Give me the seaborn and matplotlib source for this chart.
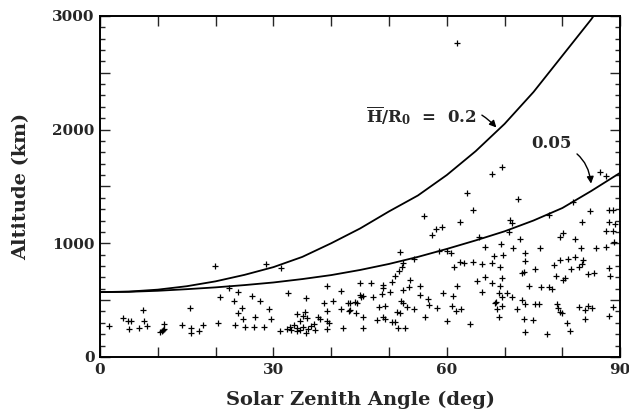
import matplotlib
matplotlib.use("Agg")
import matplotlib.pyplot as plt
from matplotlib.ticker import MultipleLocator, FuncFormatter
import seaborn as sns
import pandas as pd

# === DATA ===
zenith_deg = [
    1.6, 4.0, 4.9, 5.3, 5.1, 7.4, 6.8, 7.6, 8.1, 11.1, 10.3, 10.7, 11.1, 10.9,
    14.1, 15.6, 15.7, 15.7, 17.2, 17.9, 19.9, 20.8, 20.5, 22.4,
    28.8, 31.3, 23.8, 23.1, 26.3, 27.7, 24.6, 23.9, 24.7, 26.8, 29.2, 29.5,
    23.4, 25.0, 26.7, 28.4, 32.6, 35.7, 39.3, 41.7, 38.8, 40.3, 42.9, 39.3,
    41.7, 43.0, 34.1, 35.5, 35.2, 35.8, 34.6, 37.8, 38.0, 39.3, 39.7, 39.3,
    37.2, 42.1, 31.2, 32.3, 32.9, 33.5, 34.0, 34.6, 35.2, 35.9, 35.7, 34.1,
    33.0, 36.5, 37.0,
    56.0, 64.6, 62.3, 58.2, 59.1, 57.4, 65.5, 51.9, 58.6, 60.0, 60.7, 52.4,
    52.2, 51.8, 51.1, 50.5, 62.3, 63.0, 64.6, 61.3, 65.3, 54.3, 45.0, 46.9,
    49.0, 48.9, 53.7, 53.5, 52.5, 55.4, 55.3, 45.0, 45.5, 45.2, 47.3, 48.8,
    50.1, 43.2, 44.1, 44.5, 43.3, 44.3, 45.5, 47.9, 49.0, 49.3, 50.5, 51.1,
    48.3, 49.3, 51.3, 51.9, 52.1, 52.5, 53.1, 54.3, 56.7, 57.0, 58.3, 56.2,
    59.3, 61.1, 60.9, 61.7, 61.6, 62.4, 60.1, 64.0, 45.5, 51.6, 52.8, 63.5,
    61.8,
    69.6, 67.8, 86.5, 87.6, 72.3, 71.0, 71.3, 77.6, 81.9, 84.8, 88.1, 88.8,
    83.4, 88.1, 89.1, 87.6, 88.8, 89.0, 70.7, 72.6, 80.1, 79.6, 82.2, 69.3,
    66.6, 71.4, 76.2, 83.3, 85.8, 87.6, 73.6, 68.1, 69.8, 73.6, 67.9, 66.1,
    69.2, 75.3, 73.3, 73.0, 78.6, 79.6, 80.9, 82.2, 83.6, 83.4, 82.8, 81.5,
    84.5, 85.4, 88.1, 88.3, 78.9, 80.5, 80.1, 66.6, 69.5, 67.8, 69.2, 74.3,
    76.3, 77.6, 78.2, 66.1, 69.0, 70.4, 69.5, 71.3, 73.0, 68.5, 68.4, 73.6,
    75.3, 75.9, 69.5, 68.7, 72.2, 79.0, 79.3, 79.6, 79.9, 82.8, 84.5, 85.1,
    83.9, 88.8, 88.1, 69.1, 73.4, 74.9, 83.9, 80.8, 73.6, 77.4, 81.3,
]
altitude_km = [
    272, 340, 314, 319, 246, 413, 257, 316, 275, 292, 217, 228, 243, 235,
    281, 428, 257, 208, 228, 278, 799, 530, 299, 603,
    817, 782, 574, 492, 539, 495, 430, 390, 331, 354, 419, 337,
    284, 266, 263, 263, 560, 515, 626, 583, 472, 495, 472, 404,
    419, 404, 375, 398, 360, 340, 319, 354, 334, 319, 296, 246,
    237, 252, 228, 246, 266, 278, 252, 237, 261, 243, 213, 231,
    240, 270, 290,
    1241, 1291, 1183, 1121, 1139, 1071, 1051, 925, 931, 931, 911, 829,
    793, 755, 711, 661, 832, 829, 832, 788, 671, 859, 653, 653,
    633, 603, 677, 618, 589, 624, 545, 545, 536, 524, 530, 554,
    574, 472, 486, 472, 413, 384, 349, 325, 349, 331, 308, 308,
    437, 448, 398, 384, 495, 472, 442, 422, 507, 454, 428, 354,
    565, 536, 448, 624, 407, 419, 319, 290, 257, 257, 252, 1445,
    2762,
    1672, 1613, 1627, 1592, 1393, 1203, 1180, 1247, 1364, 1285, 1291, 1291,
    1188, 1188, 1165, 1109, 1109, 1013, 1100, 1034, 1092, 1057, 1034, 993,
    964, 955, 955, 960, 960, 969, 916, 890, 896, 846, 823, 817,
    788, 770, 749, 735, 808, 852, 864, 881, 852, 817, 793, 770,
    726, 740, 779, 711, 711, 691, 677, 700, 691, 647, 624, 624,
    612, 612, 595, 574, 565, 565, 530, 530, 501, 486, 472, 466,
    466, 466, 448, 419, 422, 466, 428, 398, 384, 442, 451, 428,
    413, 437, 360, 349, 331, 325, 331, 296, 222, 202, 231,
]

# model curves H/R0 = 0.2 and 0.05
curve_02_deg = [0, 5, 10, 15, 20, 25, 30, 35, 40, 45, 50, 55, 60, 65, 70,
                75, 80, 85, 85.4]
curve_02_km = [570, 575, 592, 622, 665, 722, 790, 880, 1000, 1130, 1280,
               1420, 1600, 1810, 2050, 2330, 2650, 2970, 3000]
curve_005_deg = [0, 5, 10, 15, 20, 25, 30, 35, 40, 45, 50, 55, 60, 65, 70,
                 75, 80, 85, 90]
curve_005_km = [570, 573, 582, 596, 612, 632, 655, 685, 720, 765, 818, 880,
                950, 1025, 1105, 1200, 1310, 1460, 1620]


def main():
    sns.set_style("ticks")
    plt.rcParams["font.family"] = ["DejaVu Serif"]
    plt.rcParams["font.weight"] = "bold"
    plt.rcParams["mathtext.fontset"] = "dejavuserif"

    fig = plt.figure(figsize=(6.29, 4.17), dpi=100)
    ax = fig.add_axes([0.159, 0.144, 0.827, 0.818])

    df_pts = pd.DataFrame({"zenith": zenith_deg, "alt": altitude_km})
    sns.scatterplot(data=df_pts, x="zenith", y="alt", marker="+", s=22,
                    color="black", linewidth=0.9, ax=ax)

    sns.lineplot(x=curve_02_deg, y=curve_02_km, color="black", lw=1.3,
                 sort=False, ax=ax)
    sns.lineplot(x=curve_005_deg, y=curve_005_km, color="black", lw=1.3,
                 sort=False, ax=ax)

    # curve labels with curved arrows
    arrow = dict(arrowstyle="-|>", color="black", lw=1.0,
                 connectionstyle="arc3,rad=-0.4", mutation_scale=10)
    ax.annotate(r"$\mathbf{\overline{H}/R_0}$  =  0.2", xy=(68.9, 2000),
                xytext=(46.0, 2120), fontsize=12, fontweight="bold",
                va="center", ha="left", arrowprops=arrow)
    ax.annotate("0.05", xy=(85.0, 1500), xytext=(74.6, 1880),
                fontsize=12, fontweight="bold", va="center", ha="left",
                arrowprops=arrow)

    ax.set_xlim(0, 90)
    ax.set_ylim(0, 3000)
    ax.xaxis.set_major_locator(MultipleLocator(30))
    ax.xaxis.set_minor_locator(MultipleLocator(10))
    ax.yaxis.set_major_locator(MultipleLocator(500))
    ax.yaxis.set_minor_locator(MultipleLocator(100))
    ax.yaxis.set_major_formatter(
        FuncFormatter(lambda v, p: f"{int(v)}" if v % 1000 == 0 else ""))

    ax.tick_params(which="both", direction="in", top=True, right=True,
                   width=1.0, labelsize=11, pad=4)
    ax.tick_params(which="major", length=7)
    ax.tick_params(axis="x", which="minor", length=7)
    ax.tick_params(axis="y", which="minor", length=3.5)
    for lab in ax.get_xticklabels() + ax.get_yticklabels():
        lab.set_fontweight("bold")
    for sp in ax.spines.values():
        sp.set_linewidth(1.4)
        sp.set_color("black")

    ax.set_xlabel("Solar Zenith Angle (deg)", fontsize=14, fontweight="bold",
                  labelpad=10)
    ax.set_ylabel("Altitude (km)", fontsize=14, fontweight="bold", labelpad=16)

    fig.savefig("out.png", dpi=100)
    plt.close(fig)


if __name__ == '__main__':
    main()
